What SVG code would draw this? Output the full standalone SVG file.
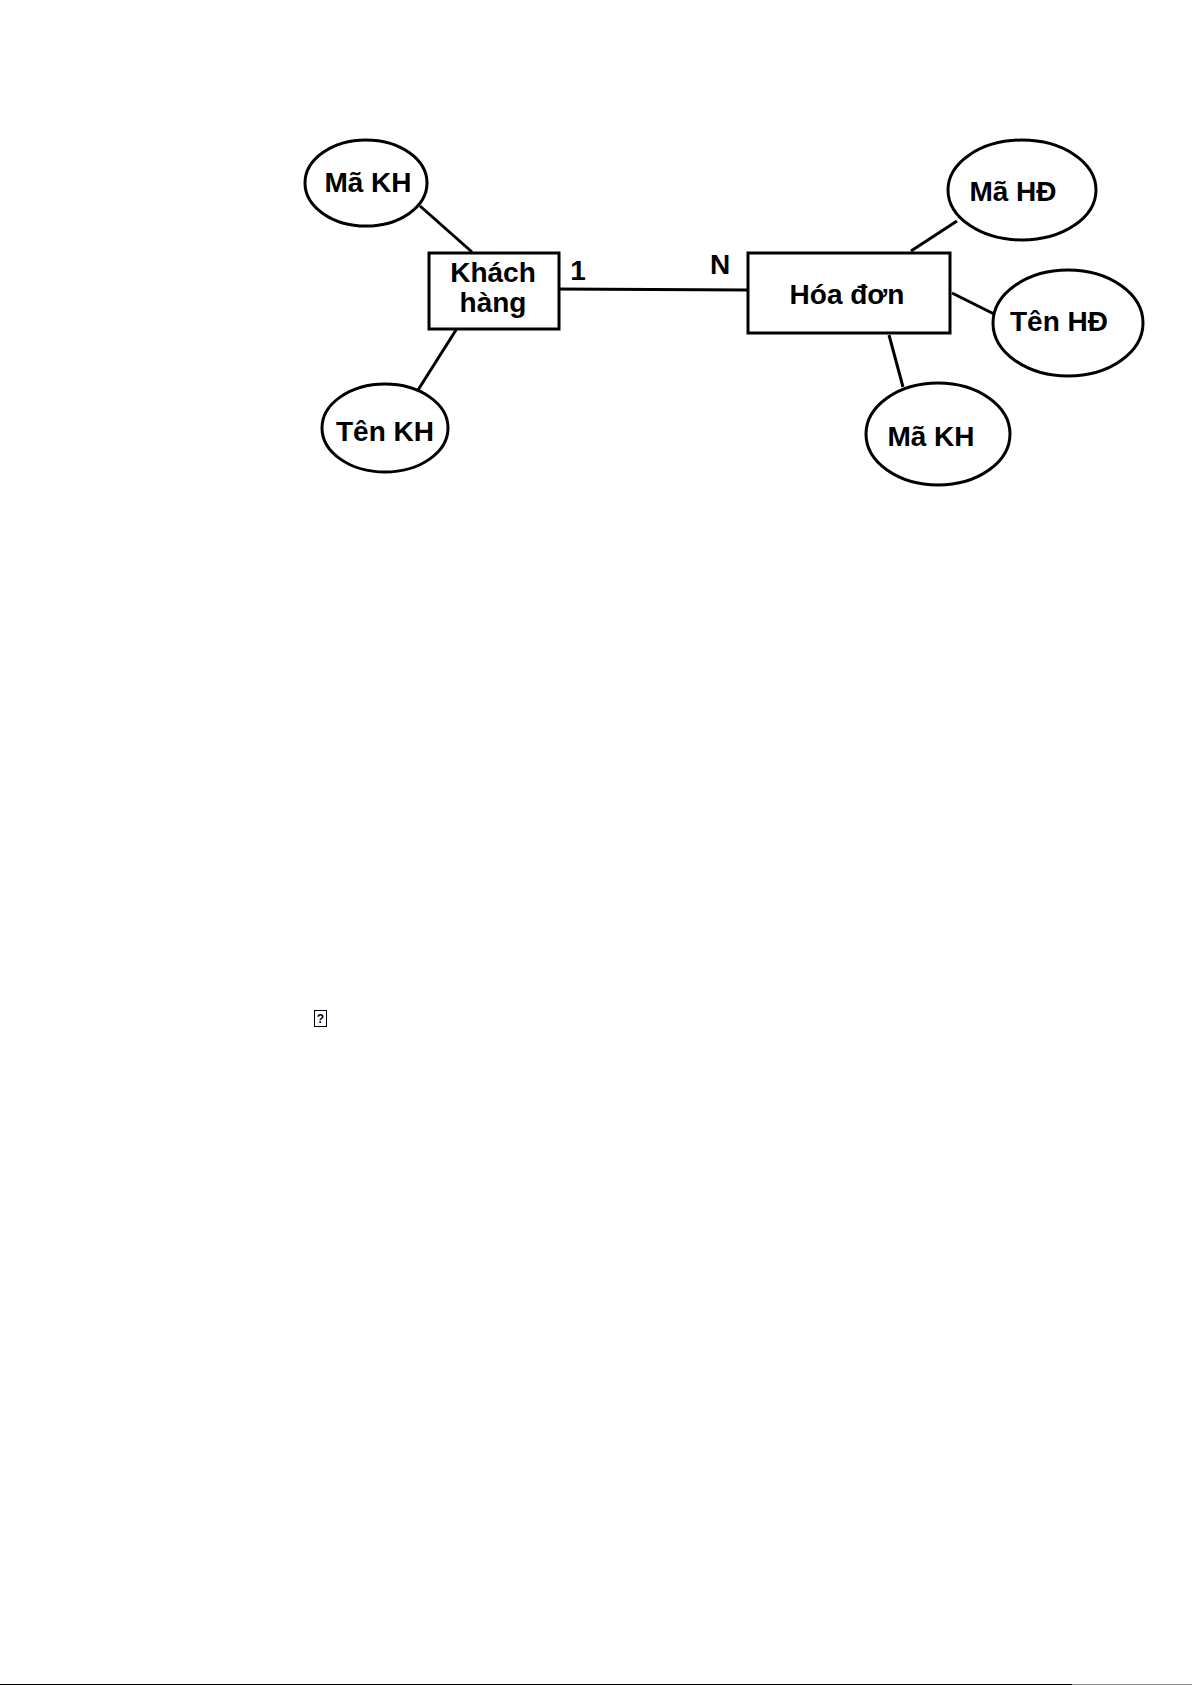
<svg xmlns="http://www.w3.org/2000/svg" width="1192" height="1685" viewBox="0 0 1192 1685">
<style>
.shape{fill:#fff;stroke:#000;stroke-width:3}
.lbl{font-family:"Liberation Sans",Arial,sans-serif;font-weight:bold;font-size:28px;fill:#000;text-anchor:middle}
.conn{stroke:#000;stroke-width:3;fill:none}
</style>
<rect width="1192" height="1685" fill="#fff"/>
<g id="connectors">
<line class="conn" x1="420" y1="206" x2="472" y2="252"/>
<line class="conn" x1="456" y1="330" x2="418" y2="390"/>
<line class="conn" x1="555" y1="289" x2="748" y2="290"/>
<line class="conn" x1="957" y1="221" x2="911" y2="251"/>
<line class="conn" x1="952" y1="293" x2="994" y2="314"/>
<line class="conn" x1="889" y1="335" x2="903" y2="387"/>
</g>
<g id="ma-kh-1">
<ellipse class="shape" cx="366" cy="183" rx="61" ry="43"/>
<text class="lbl" x="368" y="192">Mã KH</text>
</g>
<g id="ten-kh">
<ellipse class="shape" cx="385" cy="428" rx="63" ry="44"/>
<text class="lbl" x="385" y="441">Tên KH</text>
</g>
<g id="khach-hang">
<rect class="shape" x="429" y="253" width="130" height="76"/>
<text class="lbl" x="493" y="282" font-size="27">Khách</text>
<text class="lbl" x="493" y="312" font-size="27">hàng</text>
</g>
<g id="card-1"><text class="lbl" x="578" y="280">1</text></g>
<g id="card-n"><text class="lbl" x="720" y="274">N</text></g>
<g id="hoa-don">
<rect class="shape" x="748" y="253" width="202" height="80"/>
<text class="lbl" x="847" y="304">Hóa đơn</text>
</g>
<g id="ma-hd">
<ellipse class="shape" cx="1022" cy="190" rx="74" ry="50"/>
<text class="lbl" x="1013" y="201">Mã HĐ</text>
</g>
<g id="ten-hd">
<ellipse class="shape" cx="1068" cy="323" rx="75" ry="53"/>
<text class="lbl" x="1059" y="331">Tên HĐ</text>
</g>
<g id="ma-kh-2">
<ellipse class="shape" cx="938" cy="434" rx="72" ry="51"/>
<text class="lbl" x="931" y="446">Mã KH</text>
</g>
<g id="missing-glyph">
<rect x="314.5" y="1010.5" width="12" height="16" fill="none" stroke="#000" stroke-width="1"/>
<text x="320.5" y="1023" font-family="Liberation Sans,Arial,sans-serif" font-size="12" font-weight="bold" text-anchor="middle">?</text>
</g>
<rect x="0" y="1684" width="1072" height="1" fill="#000"/>
<rect x="1072" y="1684" width="120" height="1" fill="#888"/>
</svg>
